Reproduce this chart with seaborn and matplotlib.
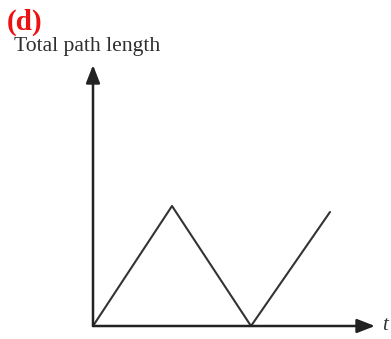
import matplotlib
matplotlib.use("Agg")
import matplotlib.pyplot as plt
import seaborn as sns
import pandas as pd

# Sketch of total path length over time (triangle profile)
time_steps = [0, 1, 2, 3]
path_length = [0.0, 1.0, 0.0, 0.95]
panel_label = "(d)"
y_label = "Total path length"
x_label = "t"

sns.set_theme(style="white")
plt.rcParams["font.family"] = ["Liberation Serif", "DejaVu Serif"]

W, H = 391, 339
fig = plt.figure(figsize=(W / 100, H / 100), dpi=100)

ox, oy = 93, 326          # axis origin in pixels
right, top = 375, 65      # arrow tips in pixels
ax = fig.add_axes([ox / W, 1 - oy / H, (right - ox) / W, (oy - top) / H])
ax.set_xlim(0, (right - ox) / 79)
ax.set_ylim(0, (oy - top) / 120)

df = pd.DataFrame({"t": time_steps, "L": path_length})
sns.lineplot(data=df, x="t", y="L", ax=ax, color="#333333", linewidth=1.5)

for s in ax.spines.values():
    s.set_visible(False)
ax.set_xticks([])
ax.set_yticks([])
ax.set_xlabel("")
ax.set_ylabel("")
ax.grid(False)

arrow = dict(arrowstyle="-|>,head_length=0.9,head_width=0.35",
             color="#222222", lw=1.8, shrinkA=0, shrinkB=0)
ax.annotate("", xy=(1, 0), xytext=(0, 0), xycoords="axes fraction",
            textcoords="axes fraction", arrowprops=arrow, annotation_clip=False)
ax.annotate("", xy=(0, 1), xytext=(0, 0), xycoords="axes fraction",
            textcoords="axes fraction", arrowprops=arrow, annotation_clip=False)

fig.text(7 / W, 1 - 22 / H, panel_label, color="#ee1111", fontsize=21,
         fontweight="bold", ha="left", va="center")
fig.text(14 / W, 1 - 47 / H, y_label, color="#2e2e2e", fontsize=15.6,
         ha="left", va="center")
fig.text(382 / W, 1 - 326 / H, x_label, color="#333333", fontsize=15,
         style="italic", ha="left", va="center")

fig.savefig("out.png", dpi=100)
